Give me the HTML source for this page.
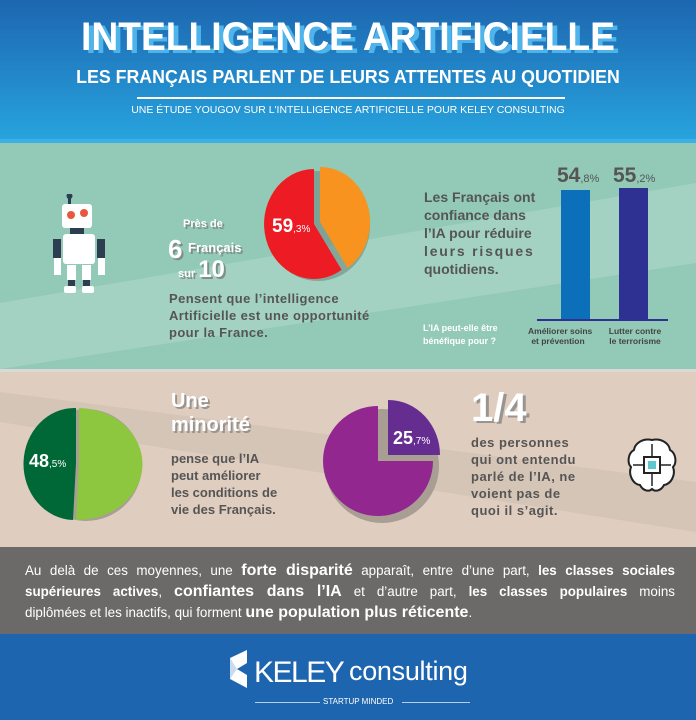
<!DOCTYPE html>
<html><head><meta charset="utf-8"><style>
*{margin:0;padding:0;box-sizing:border-box}
body{width:696px;height:720px;overflow:hidden;font-family:"Liberation Sans",sans-serif;position:relative;background:#fff}
.a{position:absolute;white-space:nowrap}
.g{color:#555;font-weight:bold}
.j{text-align:justify;text-align-last:justify;width:650px;left:25px}
</style></head><body>
<div class="a" style="left:0;top:0;width:696px;height:139px;background:linear-gradient(#1d66b0,#27a3dd)"></div>
<div class="a" style="left:0;top:139px;width:696px;height:4px;background:#3cb0e4"></div>
<div class="a" style="left:0;top:15px;width:696px;text-align:center;font-size:40px;font-weight:bold;color:#fff;text-shadow:5px 3px 0 #4fb4ea;transform:scaleX(0.93)">INTELLIGENCE ARTIFICIELLE</div>
<div class="a" style="left:0;top:66px;width:696px;text-align:center;font-size:18.5px;font-weight:bold;color:#fff;transform:scaleX(0.96)">LES FRANÇAIS PARLENT DE LEURS ATTENTES AU QUOTIDIEN</div>
<div class="a" style="left:137px;top:97px;width:428px;height:2px;background:#fff"></div>
<div class="a" style="left:0;top:104px;width:696px;text-align:center;font-size:10.5px;color:#fff">UNE ÉTUDE YOUGOV SUR L'INTELLIGENCE ARTIFICIELLE POUR KELEY CONSULTING</div>

<div class="a" style="left:0;top:143px;width:696px;height:226px;background:#93c9b7;overflow:hidden">
 <svg width="696" height="226" style="position:absolute;left:0;top:0"><polygon points="0,160 696,40 696,120 0,226" fill="#a3d2c2"/></svg>
</div>
<svg class="a" style="left:50px;top:194px" width="72" height="104">
 <rect x="18" y="0" width="3" height="12" fill="#2d3e50"/><circle cx="19.5" cy="2" r="3" fill="#2d3e50"/>
 <rect x="12" y="10" width="30" height="24" rx="3" fill="#fff"/>
 <circle cx="21" cy="21" r="4" fill="#e9573f"/><circle cx="34" cy="19" r="4" fill="#e9573f"/>
 <rect x="20" y="34" width="14" height="6" fill="#2d3e50"/>
 <rect x="13" y="40" width="32" height="30" rx="3" fill="#fff"/>
 <rect x="3" y="45" width="8" height="19" fill="#2d3e50"/><rect x="4" y="64" width="7" height="17" fill="#fff"/>
 <rect x="47" y="45" width="8" height="19" fill="#2d3e50"/><rect x="48" y="64" width="7" height="17" fill="#fff"/>
 <rect x="17" y="71" width="9" height="15" fill="#fff"/><rect x="32" y="71" width="9" height="15" fill="#fff"/>
 <rect x="18" y="86" width="7" height="6" fill="#2d3e50"/><rect x="33" y="86" width="7" height="6" fill="#2d3e50"/>
 <rect x="14" y="92" width="12" height="7" rx="2" fill="#fff"/><rect x="32" y="92" width="12" height="7" rx="2" fill="#fff"/>
</svg>
<div class="a" style="left:183px;top:218px;font-size:11px;font-weight:bold;color:#fff;text-shadow:2px 2px 0 #7f8f88">Près de</div>
<div class="a" style="left:168px;top:234px;font-size:26px;font-weight:bold;color:#fff;text-shadow:2px 2px 0 #7f8f88">6</div>
<div class="a" style="left:188px;top:240px;font-size:13px;font-weight:bold;color:#fff;text-shadow:2px 2px 0 #7f8f88">Français</div>
<div class="a" style="left:178px;top:256px;font-size:11px;font-weight:bold;color:#fff;text-shadow:2px 2px 0 #7f8f88">sur <span style="font-size:24px">10</span></div>
<svg class="a" style="left:262px;top:166px" width="115" height="118">
 <ellipse cx="56" cy="60" rx="52" ry="55" fill="#6f8a80" opacity="0.6"/>
 <path d="M52,58 L52,3 A50,55 0 1 0 79.6,103.9 Z" fill="#ed1c24"/>
 <path d="M58,56 L58,1 A50,55 0 0 1 85.6,101.9 Z" fill="#f7931e"/>
</svg>
<div class="a" style="left:272px;top:216px;font-size:19px;font-weight:bold;color:#fff">59<span style="font-size:10px;font-weight:normal">,3%</span></div>
<div class="a g" style="left:169px;top:290px;font-size:13px;line-height:17px;letter-spacing:0.4px">Pensent que l’intelligence<br>Artificielle est une opportunité<br>pour la France.</div>
<div class="a g" style="left:424px;top:188px;font-size:14px;line-height:18px">Les Français ont<br>confiance dans<br>l’IA pour réduire<br><span style="letter-spacing:1.8px">leurs risques</span><br>quotidiens.</div>
<div class="a" style="left:557px;top:164px;font-size:21px;font-weight:bold;color:#555">54<span style="font-size:11px;font-weight:normal">,8%</span></div>
<div class="a" style="left:613px;top:164px;font-size:21px;font-weight:bold;color:#555">55<span style="font-size:11px;font-weight:normal">,2%</span></div>
<div class="a" style="left:561px;top:190px;width:29px;height:130px;background:#0b6fba"></div>
<div class="a" style="left:619px;top:188px;width:29px;height:132px;background:#2e3192"></div>
<div class="a" style="left:537px;top:319px;width:131px;height:2px;background:#2e3192"></div>
<div class="a" style="left:423px;top:322px;font-size:9px;line-height:13px;font-weight:bold;color:#fff">L’IA peut-elle être<br>bénéfique pour ?</div>
<div class="a" style="left:528px;top:326px;font-size:8.5px;line-height:10px;font-weight:bold;color:#444;text-align:center;width:60px">Améliorer soins<br>et prévention</div>
<div class="a" style="left:605px;top:326px;font-size:8.5px;line-height:10px;font-weight:bold;color:#444;text-align:center;width:60px">Lutter contre<br>le terrorisme</div>

<div class="a" style="left:0;top:369px;width:696px;height:3px;background:#d9dad6"></div>
<div class="a" style="left:0;top:372px;width:696px;height:175px;background:#dfcdbf;overflow:hidden">
 <svg width="696" height="175" style="position:absolute;left:0;top:0"><polygon points="0,20 696,110 696,160 0,50" fill="#d5c5b7"/></svg>
</div>
<svg class="a" style="left:22px;top:405px" width="125" height="120">
 <ellipse cx="64" cy="60" rx="56" ry="56" fill="#a99e94"/>
 <path d="M54,58 L54,3 A51,56 0 0 0 51,115 Z" fill="#006837"/>
 <path d="M57,58 L57,3 A65,56 0 0 1 54,115 Z" fill="#8dc63f"/>
</svg>
<div class="a" style="left:29px;top:451px;font-size:18px;font-weight:bold;color:#fff">48<span style="font-size:10px;font-weight:normal">,5%</span></div>
<div class="a" style="left:171px;top:389px;font-size:20px;line-height:24px;font-weight:bold;color:#fff;text-shadow:2px 2px 0 #9a9490">Une<br>minorité</div>
<div class="a g" style="left:171px;top:450px;font-size:13px;line-height:17px">pense que l’IA<br>peut améliorer<br>les conditions de<br>vie des Français.</div>
<svg class="a" style="left:322px;top:396px" width="130" height="130">
 <ellipse cx="60" cy="70" rx="57" ry="57" fill="#a99e94"/>
 <path d="M56,65 L56,10 A55,55 0 1 0 111,65 Z" fill="#92278f"/>
 <path d="M66,59 L66,4 A52,55 0 0 1 118,59 Z" fill="#662d91"/>
</svg>
<div class="a" style="left:393px;top:428px;font-size:18px;font-weight:bold;color:#fff">25<span style="font-size:10px;font-weight:normal">,7%</span></div>
<div class="a" style="left:471px;top:386px;font-size:40px;font-weight:bold;color:#fff;text-shadow:3px 2px 0 #9a9490">1/4</div>
<div class="a g" style="left:471px;top:434px;font-size:13px;line-height:17px;letter-spacing:0.5px">des personnes<br>qui ont entendu<br>parlé de l’IA, ne<br>voient pas de<br>quoi il s’agit.</div>
<svg class="a" style="left:624px;top:436px" width="56" height="60">
 <path d="M28,4 C19,2 11,7 10,14 C4,17 3,27 7,31 C4,39 9,48 16,49 C19,55 25,56 28,53 C31,56 37,55 40,49 C47,48 52,39 49,31 C53,27 52,17 46,14 C45,7 37,2 28,4 Z" fill="#fff" stroke="#222" stroke-width="2"/>
 <rect x="20" y="21" width="16" height="16" fill="#fff" stroke="#222" stroke-width="2"/>
 <rect x="24" y="25" width="8" height="8" fill="#5bc8d0"/>
 <path d="M9,29 H20 M36,29 H47 M28,8 V21 M28,37 V50" stroke="#222" stroke-width="1.5"/>
</svg>

<div class="a" style="left:0;top:547px;width:696px;height:87px;background:#6b6a69"></div>
<div class="a j" style="top:560px;font-size:13.4px;line-height:22px;color:#fff">Au delà de ces moyennes, une <b style="font-size:16px">forte disparité</b> apparaît, entre d’une part, <b>les classes sociales</b></div>
<div class="a j" style="top:581px;font-size:13.4px;line-height:22px;color:#fff"><b>supérieures actives</b>, <b style="font-size:16px">confiantes dans l’IA</b> et d’autre part, <b>les classes populaires</b> moins</div>
<div class="a" style="left:25px;top:602px;font-size:13.4px;line-height:22px;color:#fff">diplômées et les inactifs, qui forment <b style="font-size:16px">une population plus réticente</b>.</div>

<div class="a" style="left:0;top:634px;width:696px;height:86px;background:#1e65b0"></div>
<svg class="a" style="left:227px;top:650px" width="24" height="38"><polygon points="3,8 20,0 20,13 10,19 20,25 20,38 3,29" fill="#fff"/><polygon points="3,8 10,19 3,29" fill="#c9dcef"/></svg>
<div class="a" style="left:254px;top:656px;font-size:30px;color:#fff;letter-spacing:-1.5px">KELEY</div>
<div class="a" style="left:349px;top:656px;font-size:27px;color:#fff;letter-spacing:-0.3px">consulting</div>
<div class="a" style="left:255px;top:702px;width:65px;height:1px;background:#b8cfe8"></div>
<div class="a" style="left:402px;top:702px;width:68px;height:1px;background:#b8cfe8"></div>
<div class="a" style="left:323px;top:697px;font-size:8px;color:#fff">STARTUP MINDED</div>
</body></html>
